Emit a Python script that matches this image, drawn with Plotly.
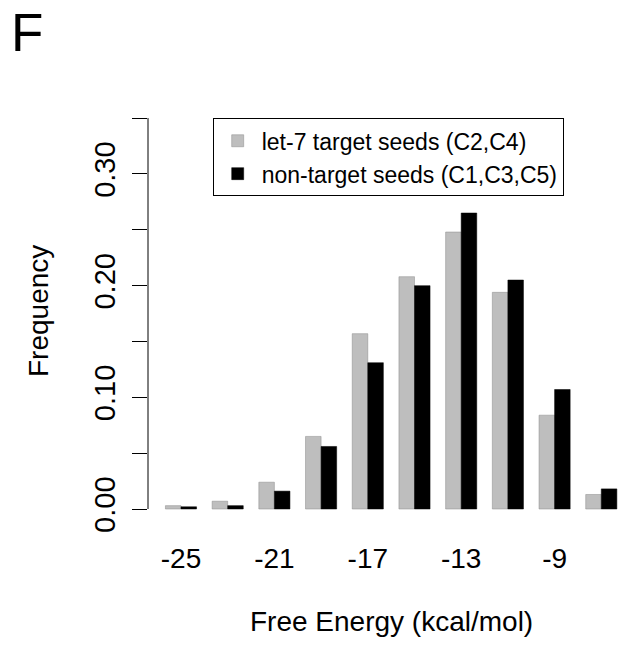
import plotly.graph_objects as go

# Data
energy_bins = [-25, -23, -21, -19, -17, -15, -13, -11, -9, -7]
let7_target = [0.003, 0.007, 0.024, 0.065, 0.157, 0.208, 0.248, 0.194, 0.084, 0.013]
non_target = [0.002, 0.003, 0.016, 0.056, 0.131, 0.200, 0.265, 0.205, 0.107, 0.018]
x_tick_vals = [-25, -21, -17, -13, -9]
y_tick_vals = [0.0, 0.05, 0.10, 0.15, 0.20, 0.25, 0.30, 0.35]
y_tick_text = ["0.00", "", "0.10", "", "0.20", "", "0.30", ""]

FONT = "Liberation Sans, Arial, Helvetica, sans-serif"

fig = go.Figure()
fig.add_trace(go.Bar(
    x=energy_bins, y=let7_target, name="let-7 target seeds (C2,C4)",
    legendgroup="a",
    marker=dict(color="#BEBEBE", line=dict(color="#8a8a8a", width=0.5)),
))
fig.add_trace(go.Bar(
    x=energy_bins, y=non_target, name="non-target seeds (C1,C3,C5)",
    legendgroup="b",
    marker=dict(color="#000000", line=dict(color="#000000", width=0.5)),
))

W, H = 621, 645
L, R, T, B = 148, 0, 100, 115
PW, PH = W - L - R, H - T - B

fig.update_layout(
    width=W, height=H,
    margin=dict(l=L, r=R, t=T, b=B, pad=0),
    paper_bgcolor="white", plot_bgcolor="white",
    barmode="group", bargap=1/3, bargroupgap=0,
    font=dict(family=FONT, color="black", size=28),
    title=dict(
        text="F", xref="container", yref="container",
        x=11 / W, y=1, xanchor="left", yanchor="top",
        pad=dict(t=14, l=0, r=0, b=0),
        font=dict(family=FONT, size=53, color="black"),
    ),
    showlegend=True,
    legend=dict(
        x=(212.7 - L) / PW, y=1 - (118.3 - T) / PH,
        xanchor="left", yanchor="top",
        bordercolor="black", borderwidth=1, bgcolor="white",
        font=dict(family=FONT, size=23, color="black"),
        tracegroupgap=8,
        itemwidth=38,
        traceorder="normal",
    ),
    xaxis=dict(
        range=[-26.413, -6.156],
        tickmode="array", tickvals=x_tick_vals,
        ticktext=[str(v) for v in x_tick_vals],
        showline=False, showgrid=False, zeroline=False,
        ticks="", ticklabelstandoff=9,
        tickfont=dict(size=28),
    ),
    yaxis=dict(
        range=[-0.0188, 0.3662],
        tickmode="array", tickvals=y_tick_vals, ticktext=y_tick_text,
        showline=False, showgrid=False, zeroline=False,
        ticks="outside", ticklen=15, tickwidth=1, tickcolor="black",
        tickangle=-90, tickfont=dict(size=29),
        ticklabelstandoff=5,
    ),
    shapes=[dict(
        type="line", xref="paper", yref="y",
        x0=0, x1=0, y0=y_tick_vals[0], y1=y_tick_vals[-1],
        line=dict(color="black", width=1),
    )],
    annotations=[
        dict(text="Free Energy (kcal/mol)", xref="paper", yref="paper",
             x=(391.5 - L) / PW, y=-(621 - (H - B)) / PH,
             xanchor="center", yanchor="middle", showarrow=False,
             font=dict(size=28)),
        dict(text="Frequency", xref="paper", yref="paper",
             x=(38 - L) / PW, y=1 - (311 - T) / PH,
             xanchor="center", yanchor="middle", textangle=-90, showarrow=False,
             font=dict(size=28)),
    ],
)

fig.write_html("out.html")
